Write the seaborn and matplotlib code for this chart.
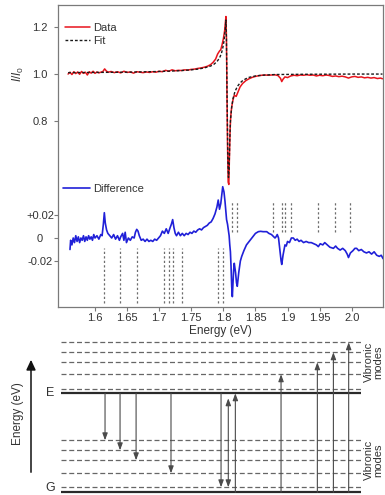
import matplotlib
matplotlib.use("Agg")
import matplotlib.pyplot as plt
import seaborn as sns

# ---- spectrum ----
data_e = [1.558, 1.561, 1.564, 1.567, 1.570, 1.573, 1.576, 1.579, 1.582, 1.585,
          1.588, 1.591, 1.594, 1.597, 1.600, 1.603, 1.606, 1.609, 1.612, 1.615,
          1.618, 1.621, 1.625, 1.630, 1.635, 1.640, 1.645, 1.650, 1.655, 1.660,
          1.665, 1.670, 1.675, 1.680, 1.685, 1.690, 1.695, 1.700, 1.705, 1.710,
          1.715, 1.720, 1.725, 1.730, 1.735, 1.740, 1.745, 1.750, 1.755, 1.760,
          1.765, 1.770, 1.775, 1.780, 1.784, 1.788, 1.791, 1.794, 1.796, 1.798,
          1.800, 1.802, 1.803, 1.804, 1.8048, 1.8055, 1.8065, 1.8075, 1.8085, 1.8095,
          1.8105, 1.8115, 1.813, 1.815, 1.817, 1.820, 1.823, 1.826, 1.830, 1.835,
          1.840, 1.845, 1.850, 1.855, 1.860, 1.865, 1.870, 1.875, 1.880, 1.885,
          1.889, 1.891, 1.893, 1.896, 1.900, 1.905, 1.910, 1.915, 1.920, 1.925,
          1.930, 1.935, 1.940, 1.945, 1.950, 1.955, 1.960, 1.965, 1.970, 1.975,
          1.980, 1.985, 1.990, 1.995, 2.000, 2.005, 2.010, 2.015, 2.020, 2.025,
          2.030, 2.035, 2.040, 2.045, 2.048]
data_i = [1.000, 1.008, 0.998, 1.010, 1.002, 1.009, 0.999, 1.011, 1.003, 1.008,
          0.996, 1.010, 1.004, 1.012, 1.003, 1.009, 1.005, 1.008, 1.010, 1.022,
          1.012, 1.008, 1.011, 1.006, 1.010, 1.005, 1.012, 1.007, 1.009, 1.004,
          1.010, 1.008, 1.006, 1.009, 1.007, 1.010, 1.008, 1.012, 1.010, 1.016,
          1.012, 1.018, 1.014, 1.016, 1.015, 1.018, 1.017, 1.020, 1.021, 1.024,
          1.026, 1.029, 1.033, 1.040, 1.050, 1.064, 1.085, 1.098, 1.104, 1.125,
          1.150, 1.185, 1.215, 1.245, 1.160, 0.950, 0.700, 0.540, 0.530, 0.650,
          0.760, 0.820, 0.860, 0.890, 0.910, 0.905, 0.925, 0.945, 0.960, 0.972,
          0.980, 0.986, 0.990, 0.993, 0.995, 0.996, 0.995, 0.996, 0.997, 0.994,
          0.982, 0.968, 0.978, 0.988, 0.985, 0.992, 0.995, 0.993, 0.996, 0.995,
          0.997, 0.995, 0.996, 0.992, 0.995, 0.993, 0.996, 0.994, 0.990, 0.992,
          0.989, 0.991, 0.988, 0.983, 0.988, 0.990, 0.986, 0.988, 0.984, 0.986,
          0.983, 0.985, 0.981, 0.983, 0.980]

fit_e = [1.558, 1.600, 1.650, 1.700, 1.730, 1.750, 1.760, 1.770, 1.780, 1.785,
         1.790, 1.794, 1.797, 1.799, 1.801, 1.803, 1.804, 1.8048, 1.8058, 1.807,
         1.808, 1.809, 1.810, 1.811, 1.813, 1.815, 1.818, 1.822, 1.826, 1.830,
         1.835, 1.840, 1.850, 1.860, 1.880, 1.920, 2.000, 2.048]
fit_i = [1.006, 1.007, 1.008, 1.011, 1.014, 1.018, 1.021, 1.026, 1.034, 1.041,
         1.053, 1.068, 1.088, 1.110, 1.140, 1.190, 1.230, 1.150, 0.900, 0.640,
         0.560, 0.600, 0.720, 0.800, 0.860, 0.895, 0.925, 0.948, 0.962, 0.972,
         0.980, 0.986, 0.992, 0.995, 0.998, 0.999, 1.000, 1.000]

diff_e = [1.561, 1.562, 1.564, 1.566, 1.568, 1.570, 1.572, 1.574, 1.576, 1.578,
          1.580, 1.582, 1.584, 1.586, 1.588, 1.590, 1.592, 1.594, 1.596, 1.598,
          1.600, 1.603, 1.606, 1.609, 1.611, 1.613, 1.6145, 1.616, 1.618, 1.620,
          1.623, 1.626, 1.629, 1.632, 1.635, 1.638, 1.640, 1.643, 1.645, 1.647,
          1.649, 1.652, 1.655, 1.658, 1.661, 1.663, 1.665, 1.667, 1.669, 1.672,
          1.675, 1.678, 1.681, 1.684, 1.687, 1.690, 1.693, 1.696, 1.699, 1.702,
          1.705, 1.708, 1.711, 1.714, 1.717, 1.719, 1.721, 1.723, 1.725, 1.727,
          1.730, 1.733, 1.736, 1.739, 1.742, 1.745, 1.748, 1.751, 1.754, 1.757,
          1.760, 1.763, 1.766, 1.769, 1.772, 1.775, 1.778, 1.781, 1.784, 1.787,
          1.790, 1.792, 1.794, 1.796, 1.798, 1.799, 1.801, 1.8026, 1.804, 1.805,
          1.8065, 1.8077, 1.809, 1.810, 1.811, 1.812, 1.813, 1.814, 1.815, 1.816,
          1.817, 1.819, 1.8205, 1.8217, 1.824, 1.8265, 1.8286, 1.832, 1.836, 1.8416,
          1.846, 1.850, 1.8545, 1.858, 1.862, 1.8676, 1.871, 1.875, 1.8805, 1.882,
          1.884, 1.886, 1.888, 1.890, 1.891, 1.893, 1.896, 1.898, 1.900, 1.903,
          1.906, 1.909, 1.912, 1.915, 1.918, 1.921, 1.925, 1.929, 1.933, 1.937,
          1.941, 1.945, 1.948, 1.951, 1.955, 1.958, 1.962, 1.966, 1.9715, 1.975,
          1.978, 1.982, 1.986, 1.990, 1.993, 1.995, 1.998, 2.002, 2.005, 2.0077,
          2.011, 2.015, 2.019, 2.023, 2.027, 2.031, 2.035, 2.039, 2.043, 2.046,
          2.049]
diff_v = [-0.010, -0.002, -0.006, 0.000, -0.004, 0.002, -0.003, 0.001, -0.004, 0.000,
          -0.002, 0.002, -0.003, 0.001, -0.002, 0.002, -0.001, 0.001, -0.002, 0.003,
          0.000, 0.002, -0.001, 0.003, 0.002, 0.012, 0.022, 0.013, 0.007, 0.004,
          0.002, 0.000, 0.003, -0.001, 0.002, -0.002, 0.001, 0.004, -0.002, 0.005,
          -0.004, 0.000, -0.002, 0.001, 0.000, 0.005, 0.0075, 0.006, 0.002, -0.002,
          -0.001, -0.003, -0.001, -0.003, -0.002, -0.003, -0.001, -0.002, 0.000, 0.002,
          0.006, 0.004, 0.008, 0.004, 0.009, 0.012, 0.016, 0.009, 0.004, 0.002,
          0.005, 0.002, 0.004, 0.002, 0.004, 0.003, 0.005, 0.004, 0.006, 0.005,
          0.007, 0.008, 0.007, 0.009, 0.010, 0.011, 0.013, 0.014, 0.017, 0.021,
          0.027, 0.033, 0.025, 0.030, 0.040, 0.0446, 0.040, 0.0316, 0.022, 0.016,
          0.012, 0.007, 0.002, -0.006, -0.012, -0.025, -0.042, -0.051, -0.040, -0.028,
          -0.022, -0.030, -0.039, -0.042, -0.030, -0.020, -0.016, -0.011, -0.006, -0.002,
          0.001, 0.004, 0.0055, 0.0058, 0.0055, 0.0055, 0.004, 0.003, 0.000, 0.001,
          0.003, 0.000, -0.010, -0.020, -0.023, -0.015, -0.006, -0.007, -0.003, -0.004,
          0.000, 0.000, -0.002, -0.001, -0.003, -0.002, -0.004, -0.003, -0.004, -0.004,
          -0.005, -0.006, -0.0075, -0.005, -0.006, -0.004, -0.006, -0.008, -0.009, -0.007,
          -0.009, -0.0105, -0.009, -0.011, -0.014, -0.017, -0.013, -0.011, -0.009, -0.009,
          -0.011, -0.010, -0.012, -0.013, -0.012, -0.014, -0.012, -0.015, -0.016, -0.015,
          -0.018]

# vibronic line positions (eV)
lines_below = [1.6145, 1.639, 1.665, 1.7075, 1.715, 1.721, 1.735, 1.792, 1.799]
lines_above = [1.814, 1.821, 1.878, 1.891, 1.896, 1.905, 1.947, 1.974, 1.998]

xticks = [1.6, 1.65, 1.7, 1.75, 1.8, 1.85, 1.9, 1.95, 2.0]
xtick_labels = ["1.6", "1.65", "1.7", "1.75", "1.8", "1.85", "1.9", "1.95", "2.0"]
top_yticks = [0.8, 1.0, 1.2]
top_ylabels = ["0.8", "1.0", "1.2"]
diff_yticks = [-0.02, 0.0, 0.02]
diff_ylabels = ["-0.02", "0", "+0.02"]

# ---- level scheme (arbitrary energy units, G = 0) ----
g_level = 0
e_level = 99
g_vib = [5, 19, 32, 42, 52]
e_vib = [103, 118, 130, 140, 150]
emission_x = [1.6156, 1.639, 1.664, 1.7184, 1.7964]
emission_to = [52, 42, 32, 19, 5]
absorption_x = [1.8187, 1.8899, 1.9465, 1.9715, 1.9953]
absorption_to = [99, 118, 130, 140, 150]
double_x = [1.8077]
double_span = [(5, 94)]

RED = "#e8141c"
BLUE = "#2020d8"
GRID = "#6e6e6e"

sns.set_theme(style="white")
plt.rcParams["font.family"] = ["Liberation Sans", "DejaVu Sans"]
plt.rcParams["mathtext.fontset"] = "custom"
plt.rcParams["mathtext.rm"] = "Liberation Sans"
plt.rcParams["mathtext.it"] = "Liberation Sans:italic"

W, H = 385, 495
fig = plt.figure(figsize=(W / 100, H / 100), dpi=100)


def px_box(x0, y0, x1, y1):
    return [x0 / W, 1 - y1 / H, (x1 - x0) / W, (y1 - y0) / H]


xlim = (1.5423, 2.0488)

# ---- spectrum axes ----
ax = fig.add_axes(px_box(58, 5, 383, 307))
sns.lineplot(x=data_e, y=data_i, ax=ax, color=RED, lw=1.1, label="Data",
             estimator=None, sort=False)
sns.lineplot(x=fit_e, y=fit_i, ax=ax, color="#1a1a1a", lw=1.0, label="Fit",
             estimator=None, sort=False, linestyle=(0, (2, 1.4)))
ax.set_xlim(*xlim)
ax.set_ylim(0.0085, 1.294)

ax2 = ax.twinx()
sns.lineplot(x=diff_e, y=diff_v, ax=ax2, color=BLUE, lw=1.2, label="Difference",
             estimator=None, sort=False)
ax2.set_ylim(-0.060, 0.2026)
ax2.vlines(lines_below, -0.0565, -0.0087, color=GRID, lw=0.9,
           linestyles=[(0, (1.8, 1.8))])
ax2.vlines(lines_above, 0.0052, 0.0313, color=GRID, lw=0.9,
           linestyles=[(0, (1.8, 1.8))])
ax2.yaxis.tick_left()
for s in ax2.spines.values():
    s.set_visible(False)

for s in ax.spines.values():
    s.set_color("#7a7a7a")
    s.set_linewidth(0.9)

ax.set_xticks(xticks)
ax.set_xticklabels(xtick_labels)
ax.set_yticks(top_yticks)
ax.set_yticklabels(top_ylabels)
ax2.set_yticks(diff_yticks)
ax2.set_yticklabels(diff_ylabels)
for a in (ax, ax2):
    a.tick_params(axis="both", direction="out", length=3, width=0.8,
                  color="#7a7a7a", labelsize=8, labelcolor="#333333")
    a.tick_params(axis="y", pad=10, left=True, right=False)
    for lab in a.get_yticklabels():
        lab.set_ha("center")
ax.tick_params(axis="x", bottom=True, pad=1.5)
ax2.tick_params(axis="x", bottom=False, labelbottom=False)
ax.set_xlabel("Energy (eV)", fontsize=8.5, color="#333333", labelpad=1)
ax.set_ylabel("")
ax2.set_ylabel("")
fig.text(18 / W, 1 - 74 / H, r"$I/I_0$", rotation=90, ha="center", va="center",
         fontsize=8.5, color="#333333")

leg = ax.legend(loc="upper left", bbox_to_anchor=(0.021, 0.942), frameon=False,
                fontsize=8, handlelength=2.25, handletextpad=0.3,
                labelspacing=0.3, borderpad=0, borderaxespad=0)
for t in leg.get_texts():
    t.set_color("#333333")
leg2 = ax2.legend(loc="upper left", bbox_to_anchor=(0.015, 0.408), frameon=False,
                  fontsize=8, handlelength=2.4, handletextpad=0.3,
                  borderpad=0, borderaxespad=0)
for t in leg2.get_texts():
    t.set_color("#333333")

# ---- level diagram ----
axd = fig.add_axes(px_box(58, 335, 383, 495))
axd.set_xlim(*xlim)
axd.set_ylim(-2.7, 157.3)
axd.axis("off")
x0, x1 = 1.547, 2.0145
axd.hlines(g_vib + e_vib, x0, x1, color="#666666", lw=0.9,
           linestyles=[(0, (4, 2.2))])
axd.hlines([g_level, e_level], x0, x1, color="#2a2a2a", lw=1.6)

arrow_kw = dict(color="#4a4a4a", lw=0.8, shrinkA=0, shrinkB=0)
head = "-|>,head_length=0.35,head_width=0.13"
for x, y in zip(emission_x, emission_to):
    axd.annotate("", xy=(x, y), xytext=(x, e_level),
                 arrowprops=dict(arrowstyle=head, **arrow_kw))
for x, y in zip(absorption_x, absorption_to):
    axd.annotate("", xy=(x, y), xytext=(x, g_level),
                 arrowprops=dict(arrowstyle=head, **arrow_kw))
for x, (ya, yb) in zip(double_x, double_span):
    axd.annotate("", xy=(x, ya), xytext=(x, yb),
                 arrowprops=dict(arrowstyle="<|-|>,head_length=0.35,head_width=0.13",
                                 **arrow_kw))

fig.text(50 / W, 1 - 393 / H, "E", ha="center", va="center", fontsize=9,
         color="#333333")
fig.text(50 / W, 1 - 488 / H, "G", ha="center", va="center", fontsize=9,
         color="#333333")
fig.text(18 / W, 1 - 414 / H, "Energy (eV)", rotation=90, ha="center",
         va="center", fontsize=8.5, color="#333333")
fig.patches.append(matplotlib.patches.FancyArrowPatch(
    (31 / W, 1 - 475 / H), (31 / W, 1 - 357 / H), transform=fig.transFigure,
    arrowstyle="-|>,head_length=6,head_width=2.8", color="#111111", lw=1.1,
    mutation_scale=1))
for yc in (362, 460):
    fig.text(373.5 / W, 1 - yc / H, "Vibronic\nmodes", rotation=90, ha="center",
             va="center", fontsize=8, color="#333333", linespacing=0.95)

fig.savefig("out.png", dpi=100)
